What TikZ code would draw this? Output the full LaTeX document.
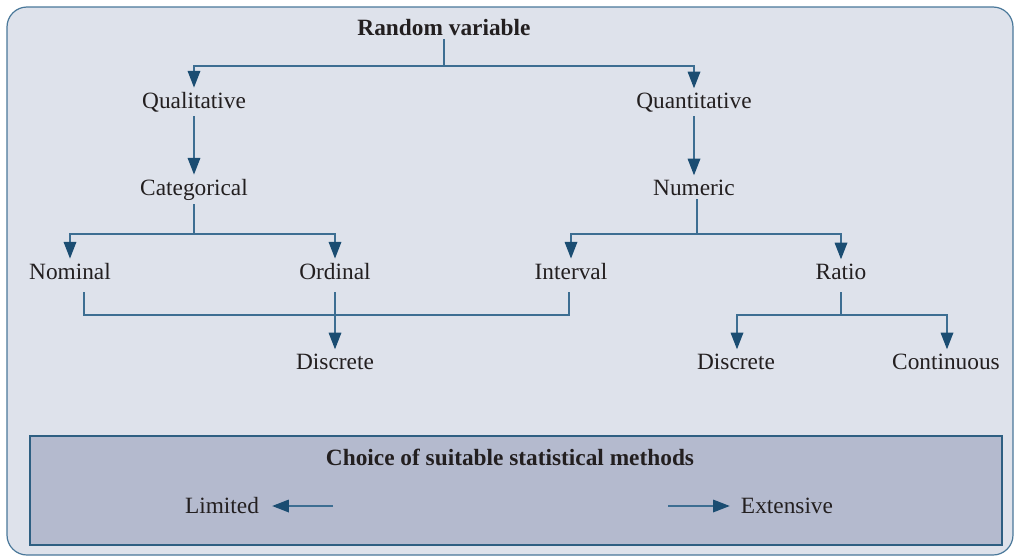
\documentclass[tikz,border=0pt]{standalone}
\usepackage{fontspec}
\setmainfont{Liberation Serif}
\usetikzlibrary{arrows.meta,calc,positioning}

\definecolor{panel}{HTML}{DEE2EB}
\definecolor{panelline}{HTML}{4A789A}
\definecolor{methfill}{HTML}{B4BACE}
\definecolor{methline}{HTML}{2E5F82}
\definecolor{conncol}{HTML}{3D6E92}
\definecolor{tipcol}{HTML}{1B4D72}
\definecolor{txtcol}{HTML}{231F20}

\tikzset{
  lbl/.style={font=\fontsize{17.5}{20}\selectfont, text=txtcol, inner sep=3pt, anchor=base},
  bold lbl/.style={lbl, font=\fontsize{17.5}{20}\selectfont\bfseries},
  conn/.style={draw=conncol, line width=0.9pt},
  tip/.style={-{Triangle[length=12.5pt,width=9.5pt,color=tipcol]}}
}

\begin{document}
\begin{tikzpicture}[x=0.75pt,y=-0.75pt]
    \useasboundingbox (0,0) rectangle (1015,557);
    \path[draw=panelline, fill=panel, line width=0.9pt, rounded corners=15pt] (7,7) rectangle (1013,555);
    \path[draw=methline, fill=methfill, line width=0.8pt] (30,436) rectangle (1002,545);

    \node[bold lbl] (rv)    at (444,35)  {Random variable};
    \node[lbl]      (qual)  at (194,108) {Qualitative};
    \node[lbl]      (quant) at (694,108) {Quantitative};
    \node[lbl]      (categ) at (194,195) {Categorical};
    \node[lbl]      (num)   at (694,195) {Numeric};
    \node[lbl]      (nom)   at (70,279)  {Nominal};
    \node[lbl]      (ord)   at (335,279) {Ordinal};
    \node[lbl]      (int)   at (571,279) {Interval};
    \node[lbl]      (rat)   at (841,279) {Ratio};
    \node[lbl]      (ddl)   at (335,369) {Discrete};
    \node[lbl]      (ddr)   at (736,369) {Discrete};
    \node[lbl]      (cont)  at (946,369) {Continuous};

    \node[bold lbl] (choice) at (510,465) {Choice of suitable statistical methods};
    \node[lbl]      (lim)    at (222,513) {Limited};
    \node[lbl]      (ext)    at (787,513) {Extensive};

    \coordinate (rvbar)  at (444,66);
    \coordinate (catbar) at (194,234);
    \coordinate (numbar) at (697,234);
    \coordinate (lowbar) at (335,315);
    \coordinate (ratbar) at (841,315);

    \draw[conn] (rv.south) -- (rvbar);
    \draw[conn,tip] (rvbar) -| (qual.north);
    \draw[conn,tip] (rvbar) -| (quant.north);

    \draw[conn,tip] (qual.south) -- (categ.north);
    \draw[conn,tip] (quant.south) -- (num.north);

    \draw[conn] (categ.south) -- (catbar);
    \draw[conn,tip] (catbar) -| (nom.north);
    \draw[conn,tip] (catbar) -| (ord.north);

    \draw[conn] ($(num.south)+(3,0)$) -- (numbar);
    \draw[conn,tip] (numbar) -| (int.north);
    \draw[conn,tip] (numbar) -| (rat.north);

    \draw[conn] ($(nom.base)+(14,13)$) |- (lowbar) -| ($(int.base)+(-2,13)$);
    \draw[conn,tip] ($(ord.base)+(0,13)$) -- (ddl.north);

    \draw[conn] ($(rat.base)+(0,13)$) -- (ratbar);
    \draw[conn,tip] (ratbar) -| ($(ddr.north)+(1,0)$);
    \draw[conn,tip] (ratbar) -| ($(cont.north)+(1,0)$);

    \coordinate (limtail) at (333,506);
    \coordinate (exttail) at (668,506);
    \draw[conn,tip] (limtail) -- ($(limtail -| lim.east)+(9,0)$);
    \draw[conn,tip] (exttail) -- ($(exttail -| ext.west)+(-7,0)$);

  \end{tikzpicture}
\end{document}
